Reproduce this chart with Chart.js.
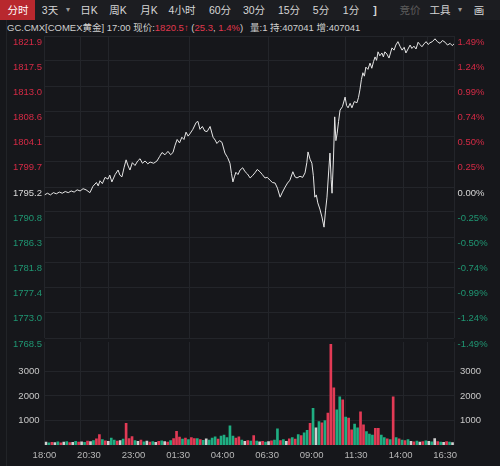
<!DOCTYPE html>
<html>
<head>
<meta charset="utf-8">
<script src="https://cdn.jsdelivr.net/npm/chart.js@4.4.1/dist/chart.umd.min.js"></script>
<style>
  body{margin:0;width:500px;height:466px;overflow:hidden;position:relative;background:#16171b;
    font-family:"Liberation Sans",Arial,"Noto Sans CJK SC",sans-serif;}
  #toolbar{position:absolute;left:0;top:0;width:500px;height:20px;background:#1c1d21;}
  .tb{position:absolute;top:0;height:20px;line-height:20px;font-size:10.5px;color:#d6d6d6;
    transform:translateX(-50%);white-space:nowrap;}
  #ativo{position:absolute;left:0;top:0;width:35px;height:20px;background:#b8282e;}
  #fade{position:absolute;left:484px;top:0;width:16px;height:20px;
    background:linear-gradient(to right,rgba(28,29,33,0),#1c1d21);}
  .info{position:absolute;top:21px;height:14px;line-height:14px;font-size:9.5px;color:#cfcfcf;white-space:nowrap;}
  .r{color:#e0384e;}
  #borda{position:absolute;left:6px;top:20px;width:1px;height:446px;background:#222428;}
  canvas{position:absolute;left:0;}
  #preco{top:0;}
  #volume{top:340px;}
</style>
</head>
<body>
<div id="toolbar">
  <div id="ativo"></div>
  <div class="tb" style="left:18px;color:#fff">分时</div>
  <div class="tb" style="left:50px">3天</div>
  <div class="tb" style="left:68px;font-size:8px;color:#999">▾</div>
  <div class="tb" style="left:89px">日K</div>
  <div class="tb" style="left:118px">周K</div>
  <div class="tb" style="left:149px">月K</div>
  <div class="tb" style="left:182px">4小时</div>
  <div class="tb" style="left:220px">60分</div>
  <div class="tb" style="left:254px">30分</div>
  <div class="tb" style="left:289px">15分</div>
  <div class="tb" style="left:321px">5分</div>
  <div class="tb" style="left:351px">1分</div>
  <div class="tb" style="left:375px;font-weight:bold">]</div>
  <div class="tb" style="left:410px;color:#5c5c5c">竞价</div>
  <div class="tb" style="left:440px">工具</div>
  <div class="tb" style="left:460px;font-size:8px;color:#999">▾</div>
  <div class="tb" style="left:479px">画</div>
  <div id="fade"></div>
</div>
<div class="info" style="left:7px">GC.CMX[COMEX黄金] 17:00 现价:<span class="r">1820.5</span><span class="r" style="font-weight:bold">↑</span> (<span class="r">25.3</span>, <span class="r">1.4%</span>)</div>
<div class="info" style="left:250px">量:1 持:407041 增:407041</div>
<div id="borda"></div>
<canvas id="preco" width="500" height="350"></canvas>
<canvas id="volume" width="500" height="126"></canvas>

<script>
  // price line (time, price)
  const priceTimes = [
    "18:00","18:10","18:20","18:30","18:40","18:50","19:00","19:10","19:20","19:30",
    "19:40","19:50","20:00","20:10","20:20","20:33","20:43","20:55","21:01","21:07",
    "21:15","21:24","21:34","21:40","21:47","21:58","22:08","22:14","22:21","22:28",
    "22:35","22:42","22:48","22:56","23:05","23:14","23:22","23:30","23:39","23:48",
    "23:56","00:08","00:19","00:28","00:36","00:46","00:56","01:05","01:13","01:20",
    "01:27","01:35","01:43","01:50","01:57","02:04","02:10","02:20","02:31","02:37",
    "02:44","02:52","03:00","03:08","03:18","03:28","03:35","03:41","03:50","03:58",
    "04:08","04:17","04:25","04:30","04:35","04:40","04:45","04:52","04:59","05:08",
    "05:16","05:24","05:33","05:41","05:49","05:57","06:06","06:14","06:23","06:31",
    "06:40","06:48","06:57","07:05","07:14","07:22","07:31","07:39","07:47","07:57",
    "08:04","08:11","08:21","08:30","08:38","08:44","08:48","08:55","09:01","09:06",
    "09:11","09:16","09:21","09:28","09:35","09:42","09:47","09:52","09:58","10:02",
    "10:06","10:09","10:14","10:18","10:22","10:26","10:31","10:36","10:44","10:53",
    "10:58","11:03","11:10","11:16","11:24","11:33","11:38","11:43","11:48","11:53",
    "11:58","12:03","12:10","12:17","12:23","12:29","12:34","12:39","12:44","12:50",
    "12:57","13:02","13:07","13:14","13:21","13:26","13:31","13:38","13:44","13:51",
    "13:58","14:05","14:12","14:18","14:25","14:32","14:38","14:45","14:52","14:59",
    "15:05","15:12","15:19","15:26","15:33","15:39","15:47","15:56","16:04","16:13",
    "16:21","16:30","16:38","16:47","16:54","17:00"
  ];
  const priceValues = [
    1793.8,1794.1,1793.8,1794.2,1794.0,1794.3,1794.1,1794.4,1794.2,1794.5,
    1794.3,1794.7,1794.5,1794.9,1794.7,1794.2,1795.3,1796.0,1795.4,1796.3,
    1795.8,1796.9,1796.6,1797.3,1796.1,1797.4,1798.2,1797.3,1797.0,1798.6,
    1800.0,1798.9,1798.2,1799.5,1799.0,1799.8,1800.2,1799.4,1799.8,1799.3,
    1799.6,1799.4,1799.8,1800.6,1801.3,1800.9,1801.5,1800.9,1801.3,1802.6,
    1803.6,1803.0,1804.0,1803.6,1804.9,1804.2,1804.6,1805.4,1806.6,1806.8,
    1805.4,1805.9,1805.1,1805.0,1805.9,1804.0,1803.5,1802.9,1803.4,1803.1,
    1801.2,1800.4,1799.4,1797.6,1796.1,1797.0,1797.8,1797.4,1798.2,1798.6,
    1797.9,1797.5,1796.8,1797.2,1797.7,1798.3,1797.9,1797.4,1796.8,1796.9,
    1796.4,1796.0,1795.9,1795.0,1793.4,1794.3,1795.2,1795.9,1796.4,1797.9,
    1797.0,1796.8,1797.1,1796.9,1797.7,1799.5,1801.4,1800.1,1799.4,1797.2,
    1793.4,1793.8,1792.4,1791.3,1789.9,1788.1,1791.0,1793.4,1798.2,1801.2,
    1796.5,1794.1,1800.5,1807.6,1803.4,1804.6,1806.8,1808.8,1809.4,1811.1,
    1809.6,1809.2,1810.0,1809.2,1810.3,1810.1,1811.0,1812.4,1814.2,1815.4,
    1814.8,1816.4,1816.0,1817.1,1816.2,1817.4,1818.2,1817.6,1819.1,1818.4,
    1818.9,1818.2,1819.1,1818.7,1818.0,1818.9,1819.8,1819.4,1820.3,1820.9,
    1820.1,1819.4,1819.9,1818.9,1819.6,1820.3,1819.7,1820.1,1819.6,1820.8,
    1820.4,1820.0,1820.5,1820.9,1820.4,1820.7,1820.9,1821.4,1820.9,1820.6,
    1821.1,1820.8,1820.3,1820.6,1820.2,1820.5
  ];

  // volume, one bar per 10 minutes from 18:00
  const volValues = [
    120, 90, 110, 100, 130, 90, 120, 140, 100, 110,
    150, 120, 130, 110, 160, 140, 180, 250, 420, 220,
    170, 150, 280, 200, 160, 180, 240, 880, 260, 340,
    180, 150, 200, 130, 160, 120, 140, 110, 150, 170,
    140, 120, 180, 260, 560, 320, 240, 280, 220, 300,
    260, 260, 220, 190, 250, 200, 280, 330, 240, 360,
    400, 300, 780, 360, 280, 330, 200, 150, 180, 160,
    380, 160, 130, 150, 120, 140, 170, 200, 660, 180,
    220, 150, 250, 300, 240, 420, 380, 500, 600, 880,
    1500, 700, 950, 900, 1000, 1300, 4100, 2330, 1430, 1960,
    1840, 1140, 1100, 620, 850, 700, 1350, 820, 550, 450,
    400, 680, 680, 400, 300, 250, 220, 1960, 300, 250,
    200, 180, 220, 150, 130, 160, 120, 140, 170, 150,
    130, 260, 140, 120, 110, 140, 120, 100
  ];
  // r = up, g = down, w = flat
  const volColors = [
    "w","g","r","w","g","r","w","g","r","w",
    "g","r","w","g","r","w","g","r","r","g",
    "r","w","g","g","r","w","g","r","r","r",
    "g","w","r","g","w","r","g","w","r","g",
    "w","r","g","r","r","r","g","r","g","r",
    "r","g","r","g","w","g","g","g","r","g",
    "g","g","g","g","r","r","g","w","r","g",
    "r","g","w","r","g","w","r","g","g","r",
    "g","w","r","g","r","g","r","g","g","r",
    "g","w","g","r","g","r","r","r","g","g",
    "r","g","r","r","g","g","r","r","g","g",
    "g","r","r","g","g","r","g","r","g","r",
    "g","r","g","w","r","g","w","r","g","w",
    "g","w","r","g","w","r","g","w"
  ];

  const priceTicks = [1821.9, 1817.5, 1813.0, 1808.6, 1804.1, 1799.7, 1795.2, 1790.8, 1786.3, 1781.8, 1777.4, 1773.0, 1768.5];
  const pctTicks = ["1.49%","1.24%","0.99%","0.74%","0.50%","0.25%","0.00%","-0.25%","-0.50%","-0.74%","-0.99%","-1.24%","-1.49%"];
  const volTicks = [1000, 2000, 3000];
  const timeLabels = ["18:00","20:30","23:00","01:30","04:00","06:30","09:00","11:30","14:00","16:30"];
  const gridTimes = ["18:00","20:00","21:35","02:10","06:35","10:55","14:10","15:30","17:00"];
  const prevClose = 1795.2;

  const VERMELHO = "#d42a45";
  const VERDE = "#1f9672";
  const BRANCO = "#d8d8d8";
  const GRADE = "#23252a";

  Chart.defaults.font.family = "'Liberation Sans', Arial, sans-serif";
  Chart.defaults.font.size = 9.5;

  // minutes since 18:00
  function minutos(t){
    let p = t.split(":");
    let m = parseInt(p[0]) * 60 + parseInt(p[1]) - 18 * 60;
    if (m < 0) m += 1440;
    return m;
  }

  function corTick(v){
    if (v > prevClose) return VERMELHO;
    if (v < prevClose) return VERDE;
    return BRANCO;
  }

  function semPadding(s){
    s.paddingTop = 0; s.paddingBottom = 0; s.paddingLeft = 0; s.paddingRight = 0;
  }

  function eixoGrade(){
    return {
      type: "linear", min: 0, max: 1380, offset: false,
      ticks: { display: false },
      grid: { color: GRADE, drawTicks: false, offset: false },
      border: { display: false },
      afterBuildTicks: s => { s.ticks = gridTimes.map(t => ({ value: minutos(t) })); },
      afterFit: s => { s.height = 0; semPadding(s); }
    };
  }

  document.addEventListener("DOMContentLoaded", graficoPreco);
  document.addEventListener("DOMContentLoaded", graficoVolume);

  function graficoPreco(){
    let pontos = [];
    for (let i = 0; i < priceTimes.length; i++) {
      pontos.push({ x: minutos(priceTimes[i]), y: priceValues[i] });
    }

    let ctx = document.getElementById("preco").getContext("2d");
    new Chart(ctx, {
      type: "line",
      data: {
        datasets: [{
          data: pontos,
          borderColor: "#e6e6e6",
          borderWidth: 1,
          pointRadius: 0,
          tension: 0
        }]
      },
      options: {
        responsive: false,
        animation: false,
        layout: { padding: { top: 36, bottom: 12, left: 0, right: 0 } },
        plugins: { legend: { display: false }, tooltip: { enabled: false } },
        scales: {
          x: eixoGrade(),
          y: {
            position: "left", min: 1768.5, max: 1821.9,
            afterBuildTicks: s => { s.ticks = priceTicks.map(v => ({ value: v })); },
            ticks: {
              autoSkip: false, padding: 2.5, labelOffset: 6,
              color: c => corTick(c.tick.value),
              callback: v => v.toFixed(1)
            },
            grid: { color: GRADE, drawTicks: false },
            border: { display: false },
            afterFit: s => { s.width = 44.5; semPadding(s); }
          },
          yPct: {
            position: "right", min: 1768.5, max: 1821.9,
            afterBuildTicks: s => { s.ticks = priceTicks.map(v => ({ value: v })); },
            ticks: {
              autoSkip: false, padding: 3.5, labelOffset: 6,
              color: c => corTick(c.tick.value),
              callback: v => pctTicks[priceTicks.indexOf(v)]
            },
            grid: { display: false, drawTicks: false },
            border: { display: false },
            afterFit: s => { s.width = 46; semPadding(s); }
          }
        }
      }
    });
  }

  function graficoVolume(){
    let pontos = [];
    let cores = [];
    for (let i = 0; i < volValues.length; i++) {
      pontos.push({ x: i * 10 + 5, y: volValues[i] });
      let c = volColors[i];
      cores.push(c == "r" ? "#e23a55" : c == "g" ? "#1fae82" : "#d0d0d0");
    }

    let ctx = document.getElementById("volume").getContext("2d");
    new Chart(ctx, {
      type: "bar",
      data: {
        datasets: [{
          data: pontos,
          backgroundColor: cores,
          barThickness: 2,
          xAxisID: "x",
          yAxisID: "y"
        }]
      },
      options: {
        responsive: false,
        animation: false,
        layout: { padding: { top: 2, bottom: 0, left: 0, right: 0 } },
        plugins: { legend: { display: false }, tooltip: { enabled: false } },
        scales: {
          x: {
            type: "linear", min: 0, max: 1380, offset: false,
            afterBuildTicks: s => { s.ticks = timeLabels.map(t => ({ value: minutos(t) })); },
            ticks: {
              autoSkip: false, maxRotation: 0, padding: 5, color: "#b8b8b8",
              callback: v => timeLabels.find(t => minutos(t) == v)
            },
            grid: { display: false, drawTicks: false, offset: false },
            border: { display: false },
            afterFit: s => { s.height = 21; semPadding(s); }
          },
          xg: eixoGrade(),
          y: {
            position: "left", min: 0, max: 4200,
            afterBuildTicks: s => { s.ticks = volTicks.map(v => ({ value: v })); },
            ticks: { autoSkip: false, padding: 5, color: "#c8c8c8", callback: v => String(v) },
            grid: { color: GRADE, drawTicks: false },
            border: { display: false },
            afterFit: s => { s.width = 44.5; semPadding(s); }
          },
          y2: {
            position: "right", min: 0, max: 4200,
            afterBuildTicks: s => { s.ticks = volTicks.map(v => ({ value: v })); },
            ticks: { autoSkip: false, padding: 6, color: "#c8c8c8", callback: v => String(v) },
            grid: { display: false, drawTicks: false },
            border: { display: false },
            afterFit: s => { s.width = 46; semPadding(s); }
          }
        }
      }
    });
  }
</script>
</body>
</html>
